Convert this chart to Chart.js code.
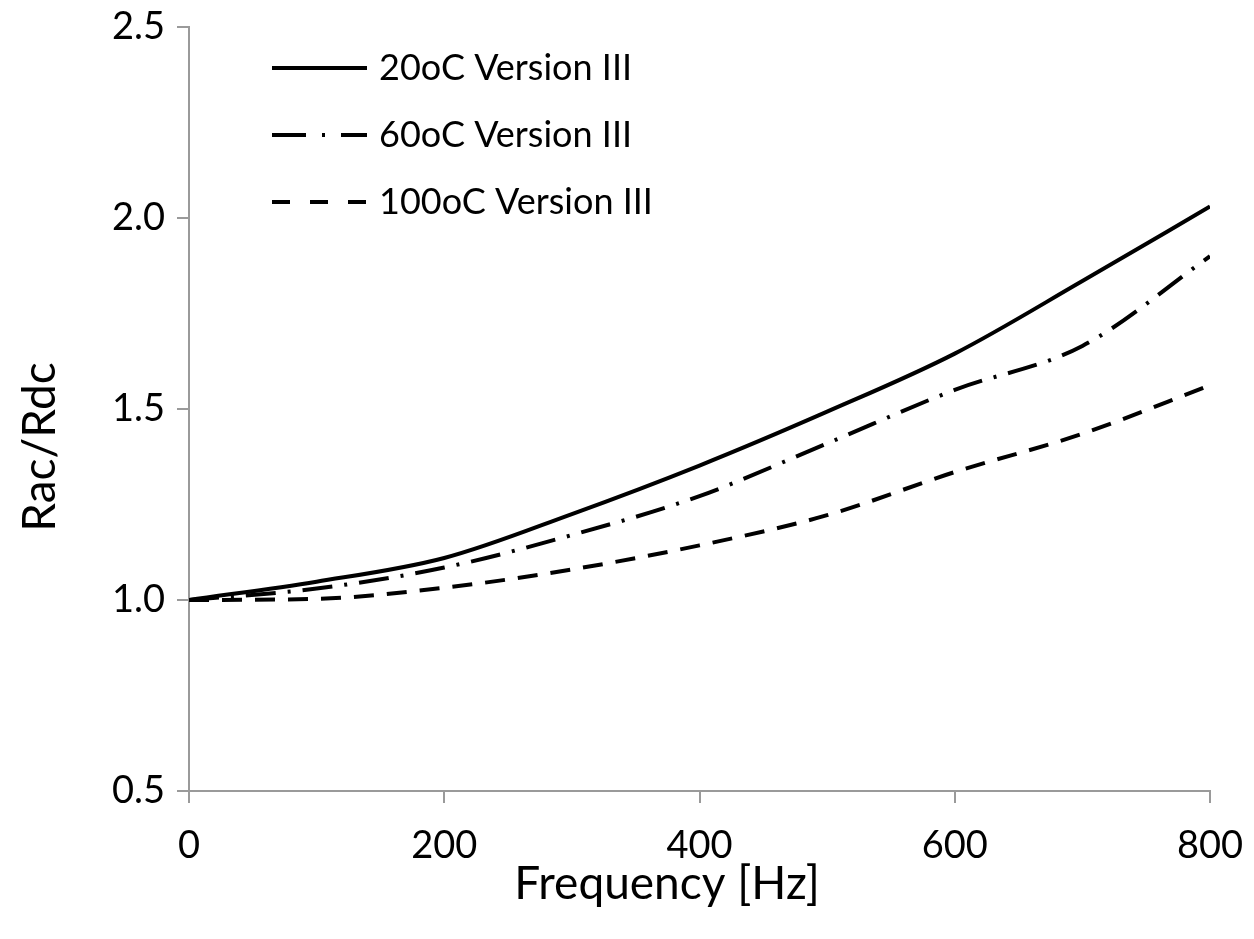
<!DOCTYPE html>
<html lang="en">
<head>
    <meta charset="UTF-8">
    <title>Rac/Rdc vs Frequency</title>
    <script src="https://cdn.jsdelivr.net/npm/chart.js"></script>
    <style>
        html, body { margin: 0; padding: 0; background: #fff; }
        #wrap { width: 1254px; height: 939px; }
    </style>
</head>
<body>
    <div id="wrap"><canvas id="racChart" width="1254" height="939"></canvas></div>
    <script>
        // frequency points (Hz)
        const freq = [0, 100, 200, 300, 400, 500, 600, 700, 800];
        // Rac/Rdc
        const rac20 = [1.0, 1.048, 1.11, 1.225, 1.352, 1.493, 1.645, 1.835, 2.03];
        const rac60 = [1.0, 1.03, 1.085, 1.17, 1.272, 1.41, 1.55, 1.665, 1.9];
        const rac100 = [1.0, 1.003, 1.032, 1.08, 1.143, 1.222, 1.335, 1.435, 1.562];
        const labels = ['20oC Version III', '60oC Version III', '100oC Version III'];
        const xTicks = [0, 200, 400, 600, 800];
        const yTicks = [0.5, 1.0, 1.5, 2.0, 2.5];
        const xTitle = 'Frequency [Hz]';
        const yTitle = 'Rac/Rdc';

        const fontFam = 'Lato, "Open Sans", sans-serif';
        const axisGray = '#9a9a9a';

        function toPts(ys) {
            return freq.map((f, i) => ({ x: f, y: ys[i] }));
        }

        // legend inside the plot (top left) and the two axis titles
        const extras = {
            id: 'extras',
            afterDraw(chart) {
                const ctx = chart.ctx;
                const area = chart.chartArea;
                const x0 = area.left + 83;
                const x1 = area.left + 178;
                ctx.save();
                ctx.font = '36px ' + fontFam;
                ctx.textBaseline = 'middle';
                chart.data.datasets.forEach((ds, i) => {
                    const y = area.top + 41 + i * 67;
                    ctx.beginPath();
                    ctx.strokeStyle = ds.borderColor;
                    ctx.lineWidth = ds.borderWidth;
                    ctx.setLineDash(ds.legendDash || ds.borderDash || []);
                    ctx.moveTo(x0, y);
                    ctx.lineTo(x1, y);
                    ctx.stroke();
                    ctx.setLineDash([]);
                    ctx.fillStyle = '#000';
                    ctx.fillText(ds.label, x1 + 12, y);
                });

                ctx.font = '46px ' + fontFam;
                ctx.textAlign = 'center';
                ctx.fillText(xTitle, 667, 884);
                ctx.translate(40, 447);
                ctx.rotate(-Math.PI / 2);
                ctx.fillText(yTitle, 0, 0);
                ctx.restore();
            }
        };

        const ctx = document.getElementById('racChart').getContext('2d');
        new Chart(ctx, {
            type: 'line',
            data: {
                datasets: [
                    {
                        label: labels[0],
                        data: toPts(rac20),
                        borderColor: '#000',
                        borderWidth: 4,
                        borderDash: []
                    },
                    {
                        label: labels[1],
                        data: toPts(rac60),
                        borderColor: '#000',
                        borderWidth: 4,
                        borderDash: [30, 12, 3, 12],
                        legendDash: [34, 16, 3, 16, 30]
                    },
                    {
                        label: labels[2],
                        data: toPts(rac100),
                        borderColor: '#000',
                        borderWidth: 4,
                        borderDash: [20, 13],
                        legendDash: [18, 20]
                    }
                ]
            },
            options: {
                responsive: false,
                animation: false,
                layout: { padding: { top: 27, right: 44, left: 0, bottom: 0 } },
                elements: {
                    point: { radius: 0 },
                    line: { tension: 0.35, cubicInterpolationMode: 'monotone', fill: false }
                },
                plugins: {
                    legend: { display: false },
                    tooltip: { enabled: false }
                },
                scales: {
                    x: {
                        type: 'linear',
                        min: 0,
                        max: 800,
                        afterBuildTicks: s => { s.ticks = xTicks.map(v => ({ value: v })); },
                        afterFit: s => {
                            s.height = 148;
                            s.paddingLeft = 0;
                            s.paddingRight = 0;
                        },
                        grid: {
                            drawOnChartArea: false,
                            drawTicks: true,
                            tickLength: 12,
                            color: axisGray,
                            lineWidth: 2
                        },
                        border: { color: axisGray, width: 2 },
                        ticks: {
                            color: '#000',
                            font: { family: fontFam, size: 38 },
                            padding: 20,
                            maxRotation: 0
                        }
                    },
                    y: {
                        type: 'linear',
                        min: 0.5,
                        max: 2.5,
                        afterBuildTicks: s => { s.ticks = yTicks.map(v => ({ value: v })); },
                        afterFit: s => {
                            s.width = 189;
                            s.paddingTop = 0;
                            s.paddingBottom = 0;
                        },
                        grid: {
                            drawOnChartArea: false,
                            drawTicks: true,
                            tickLength: 12,
                            color: axisGray,
                            lineWidth: 2
                        },
                        border: { color: axisGray, width: 2 },
                        ticks: {
                            color: '#000',
                            font: { family: fontFam, size: 38 },
                            padding: 12,
                            callback: v => Number(v).toFixed(1)
                        }
                    }
                }
            },
            plugins: [extras]
        });
    </script>
</body>
</html>
